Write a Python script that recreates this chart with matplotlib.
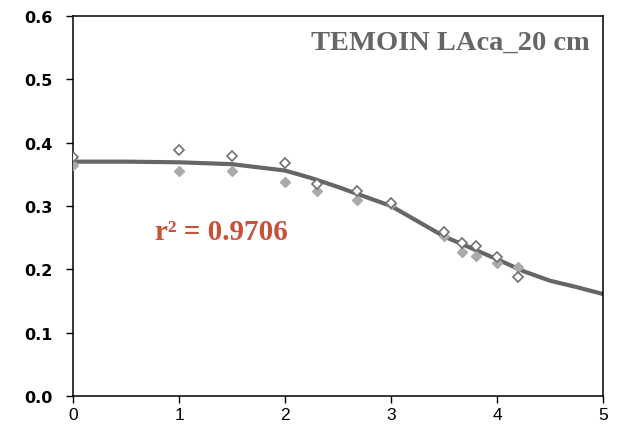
import matplotlib.pyplot as plt

# measured points (two replicates) and fitted curve
x_pts = [0, 1, 1.5, 2, 2.3, 2.68, 3, 3.5, 3.67, 3.8, 4, 4.2]
y_open = [0.377, 0.388, 0.379, 0.368, 0.335, 0.324, 0.305, 0.259, 0.242, 0.237, 0.219, 0.188]
y_fill = [0.365, 0.355, 0.355, 0.338, 0.324, 0.309, 0.303, 0.253, 0.227, 0.221, 0.210, 0.204]

x_fit = [0, 0.5, 1, 1.5, 2, 2.25, 2.5, 2.75, 3, 3.25, 3.5, 3.75, 4, 4.25, 4.5, 4.75, 5]
y_fit = [0.370, 0.370, 0.369, 0.366, 0.356, 0.344, 0.330, 0.315, 0.300, 0.276, 0.252,
         0.234, 0.216, 0.197, 0.182, 0.172, 0.161]

title = "TEMOIN LAca_20 cm"
r2_text = "r² = 0.9706"

fig = plt.figure(figsize=(6.22, 4.27), dpi=100)
ax = fig.add_axes([0.1174, 0.0703, 0.852, 0.8899])

ax.plot(x_fit, y_fit, color='#666666', lw=3, zorder=2)
ax.plot(x_pts, y_fill, 'D', ms=5.5, color='#aaaaaa', mec='#aaaaaa', zorder=3)
ax.plot(x_pts, y_open, 'D', ms=5.5, mfc='white', mec='#707070', mew=1.2, zorder=4)

ax.set_xlim(0, 5)
ax.set_ylim(0, 0.6)
ax.set_xticks([0, 1, 2, 3, 4, 5])
ax.set_yticks([0.0, 0.1, 0.2, 0.3, 0.4, 0.5, 0.6])
ax.set_yticklabels([f"{v:.1f}" for v in ax.get_yticks()], fontweight='bold', fontsize=11.5)
for lab in ax.get_xticklabels():
    lab.set_family('Liberation Sans')
    lab.set_fontsize(12.5)
ax.tick_params(axis='y', length=5, width=1, pad=10)
ax.tick_params(axis='x', length=5, width=1, pad=3)
for s in ax.spines.values():
    s.set_linewidth(1.1)

ax.text(0.975, 0.93, title, transform=ax.transAxes, ha='right', va='center',
        family='Liberation Serif', fontweight='bold', fontsize=20.5, color='#666666')
ax.text(1.40, 0.259, r2_text, ha='center', va='center',
        family='Liberation Serif', fontweight='bold', fontsize=21, color='#c8513a')

fig.savefig('out.png', dpi=100)
